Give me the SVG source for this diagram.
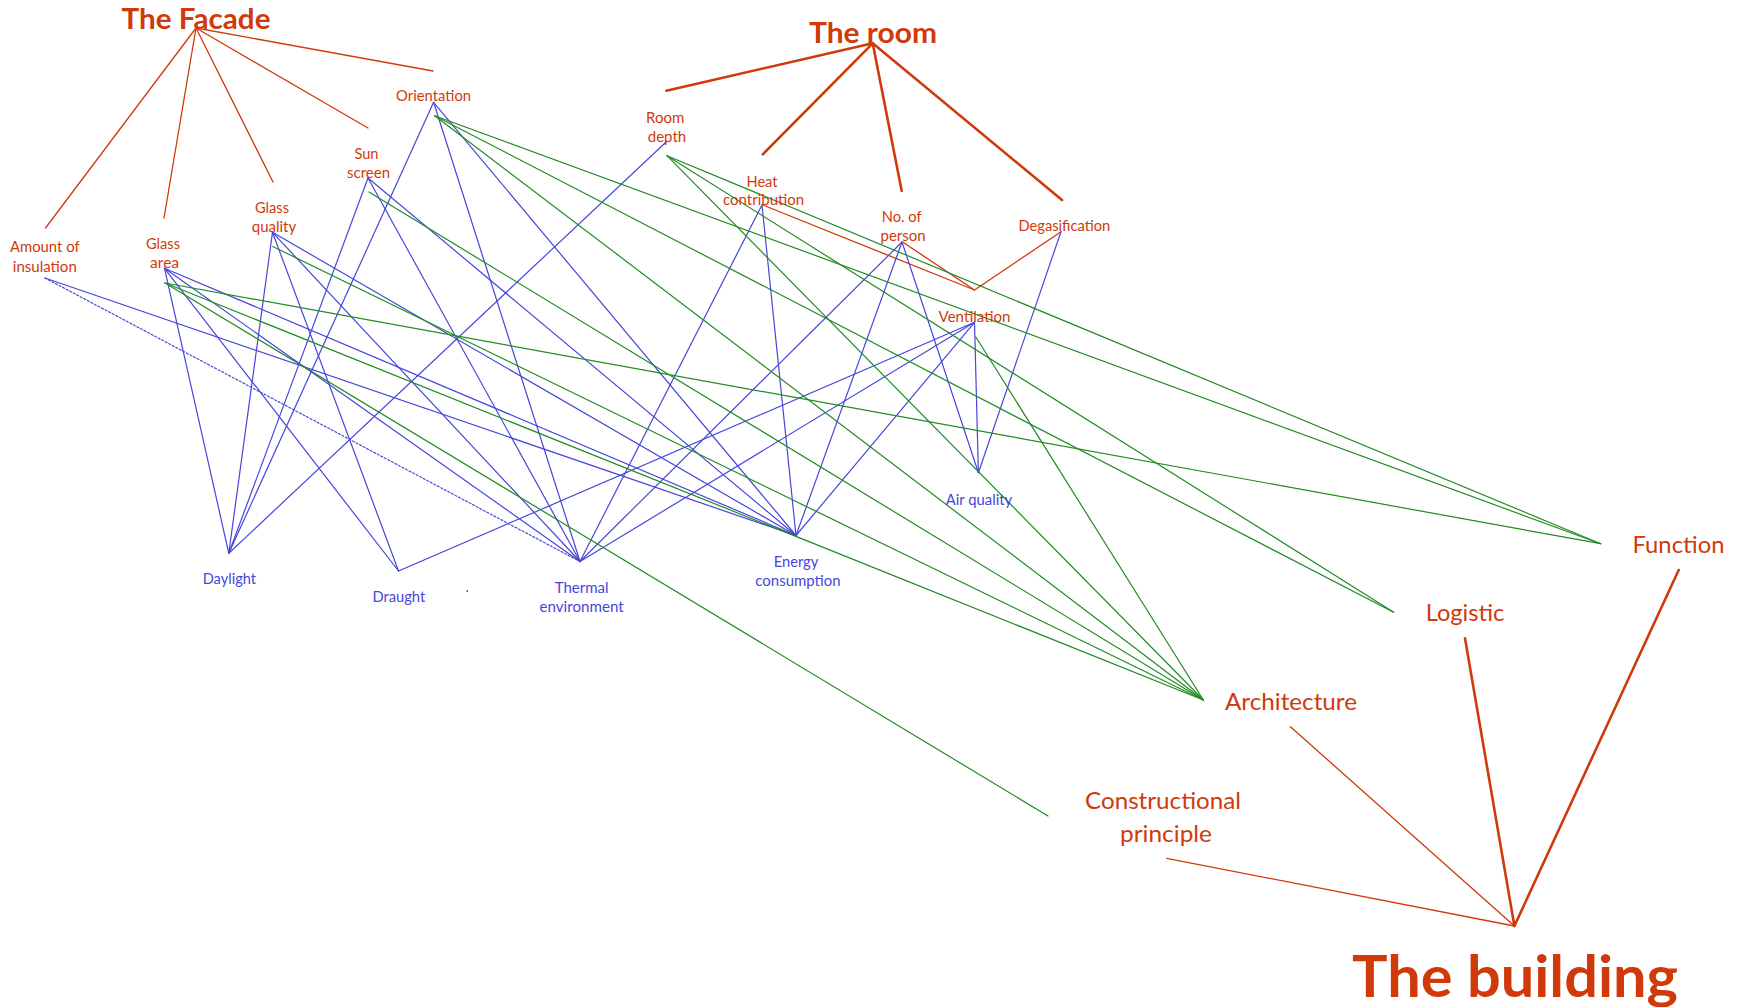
<svg xmlns="http://www.w3.org/2000/svg" width="1748" height="1007" viewBox="0 0 1748 1007">
  <style>
    text { font-family: Lato, "Liberation Sans", sans-serif; text-anchor: middle; }
    .red { fill: #D03A0A; }
    .blue { fill: #4646DC; }
    .lbl { font-size: 14.5px; }
    .title { font-size: 29px; font-weight: bold; }
    .bld { font-size: 23.5px; }
    .big { font-size: 58px; font-weight: bold; }
    line { fill: none; stroke-linecap: round; }
    .r { stroke: #D03A0A; stroke-width: 1.3; }
    .rt { stroke: #D03A0A; stroke-width: 2.6; }
    .b { stroke: #4646DC; stroke-width: 1.2; }
    .g { stroke: #228B22; stroke-width: 1.2; }
    .dash { stroke-dasharray: 2 2; }
  </style>
  <rect width="1748" height="1007" fill="#FFFFFF"/>

  <g id="connectors">
    <!-- facade tree -->
    <line class="r" x1="196" y1="28" x2="45.5" y2="228"/>
    <line class="r" x1="196" y1="28" x2="164" y2="218"/>
    <line class="r" x1="196" y1="28" x2="273" y2="182"/>
    <line class="r" x1="196" y1="28" x2="368" y2="128"/>
    <line class="r" x1="196" y1="28" x2="433" y2="71"/>
    <!-- room tree -->
    <line class="rt" x1="872.7" y1="43.3" x2="666.4" y2="90.7"/>
    <line class="rt" x1="872.7" y1="43.3" x2="762.8" y2="154.3"/>
    <line class="rt" x1="872.7" y1="43.3" x2="901.7" y2="191"/>
    <line class="rt" x1="872.7" y1="43.3" x2="1062" y2="200"/>
    <line class="r" x1="762.8" y1="205" x2="974.5" y2="290"/>
    <line class="r" x1="903" y1="242.3" x2="974.5" y2="290"/>
    <line class="r" x1="1061" y1="231.7" x2="974.5" y2="290"/>
    <!-- building tree -->
    <line class="r" x1="1514.4" y1="926" x2="1166.7" y2="858.3"/>
    <line class="r" x1="1514.4" y1="926" x2="1290.4" y2="726.7"/>
    <line class="rt" x1="1514.4" y1="926" x2="1465" y2="638.3"/>
    <line class="rt" x1="1514.4" y1="926" x2="1678.7" y2="570"/>

    <!-- blue: parameters to indoor performance -->
    <line class="b" x1="45" y1="278" x2="796" y2="535.5"/>
    <line class="b dash" x1="45" y1="278" x2="580" y2="561.5"/>
    <line class="b" x1="164.5" y1="268.3" x2="228.8" y2="553.3"/>
    <line class="b" x1="164.5" y1="268.3" x2="398.5" y2="571"/>
    <line class="b" x1="164.5" y1="268.3" x2="580" y2="561.5"/>
    <line class="b" x1="164.5" y1="268.3" x2="796" y2="535.5"/>
    <line class="b" x1="272.5" y1="232.3" x2="228.8" y2="553.3"/>
    <line class="b" x1="272.5" y1="232.3" x2="398.5" y2="571"/>
    <line class="b" x1="272.5" y1="232.3" x2="580" y2="561.5"/>
    <line class="b" x1="272.5" y1="232.3" x2="796" y2="535.5"/>
    <line class="b" x1="368" y1="178" x2="228.8" y2="553.3"/>
    <line class="b" x1="368" y1="178" x2="580" y2="561.5"/>
    <line class="b" x1="368" y1="178" x2="796" y2="535.5"/>
    <line class="b" x1="433.6" y1="102.3" x2="228.8" y2="553.3"/>
    <line class="b" x1="433.6" y1="102.3" x2="580" y2="561.5"/>
    <line class="b" x1="433.6" y1="102.3" x2="796" y2="535.5"/>
    <line class="b" x1="666.4" y1="141.7" x2="228.8" y2="553.3"/>
    <line class="b" x1="762" y1="205" x2="580" y2="561.5"/>
    <line class="b" x1="762" y1="205" x2="796" y2="535.5"/>
    <line class="b" x1="902" y1="242" x2="580" y2="561.5"/>
    <line class="b" x1="902" y1="242" x2="796" y2="535.5"/>
    <line class="b" x1="902" y1="242" x2="978.4" y2="472.7"/>
    <line class="b" x1="1061" y1="231.7" x2="978.4" y2="472.7"/>
    <line class="b" x1="974.5" y1="322.3" x2="398.5" y2="571"/>
    <line class="b" x1="974.5" y1="322.3" x2="580" y2="561.5"/>
    <line class="b" x1="974.5" y1="322.3" x2="796" y2="535.5"/>
    <line class="b" x1="974.5" y1="322.3" x2="978.4" y2="472.7"/>

    <!-- green: parameters to building aspects -->
    <line class="g" x1="165" y1="283" x2="1600.7" y2="543.7"/>
    <line class="g" x1="165" y1="283" x2="1203.4" y2="700"/>
    <line class="g" x1="165" y1="283" x2="1048" y2="816"/>
    <line class="g" x1="272.7" y1="246.5" x2="1203.4" y2="700"/>
    <line class="g" x1="369" y1="192" x2="1203.4" y2="700"/>
    <line class="g" x1="434.7" y1="115.7" x2="1600.7" y2="543.7"/>
    <line class="g" x1="434.7" y1="115.7" x2="1393.7" y2="612.3"/>
    <line class="g" x1="434.7" y1="115.7" x2="1203.4" y2="700"/>
    <line class="g" x1="667" y1="155.7" x2="1600.7" y2="543.7"/>
    <line class="g" x1="667" y1="155.7" x2="1393.7" y2="612.3"/>
    <line class="g" x1="667" y1="155.7" x2="1203.4" y2="700"/>
    <line class="g" x1="975.7" y1="336.7" x2="1203.4" y2="700"/>
  </g>

  <g id="facade"><text class="red title" x="196" y="29" textLength="149" lengthAdjust="spacingAndGlyphs">The Facade</text></g>
  <g id="room"><text class="red title" x="873" y="43.3" textLength="128" lengthAdjust="spacingAndGlyphs">The room</text></g>
  <g id="building"><text class="red big" x="1515" y="996.5" textLength="326" lengthAdjust="spacingAndGlyphs">The building</text></g>

  <g id="orientation"><text class="red lbl" x="433.6" y="101" textLength="75" lengthAdjust="spacingAndGlyphs">Orientation</text></g>
  <g id="sun-screen">
    <text class="red lbl" x="366.5" y="159.3" textLength="24" lengthAdjust="spacingAndGlyphs">Sun</text>
    <text class="red lbl" x="368.5" y="178" textLength="43" lengthAdjust="spacingAndGlyphs">screen</text>
  </g>
  <g id="glass-quality">
    <text class="red lbl" x="272" y="213" textLength="34" lengthAdjust="spacingAndGlyphs">Glass</text>
    <text class="red lbl" x="274" y="232" textLength="44.4" lengthAdjust="spacingAndGlyphs">quality</text>
  </g>
  <g id="insulation">
    <text class="red lbl" x="44.8" y="252" textLength="69.6" lengthAdjust="spacingAndGlyphs">Amount of</text>
    <text class="red lbl" x="44.8" y="271.7" textLength="64" lengthAdjust="spacingAndGlyphs">insulation</text>
  </g>
  <g id="glass-area">
    <text class="red lbl" x="163" y="249.3" textLength="34" lengthAdjust="spacingAndGlyphs">Glass</text>
    <text class="red lbl" x="164.6" y="268.3" textLength="29" lengthAdjust="spacingAndGlyphs">area</text>
  </g>
  <g id="room-depth">
    <text class="red lbl" x="665.2" y="123.3" textLength="38.3" lengthAdjust="spacingAndGlyphs">Room</text>
    <text class="red lbl" x="667" y="141.7" textLength="38.5" lengthAdjust="spacingAndGlyphs">depth</text>
  </g>
  <g id="heat-contribution">
    <text class="red lbl" x="762" y="186.7" textLength="31" lengthAdjust="spacingAndGlyphs">Heat</text>
    <text class="red lbl" x="763.6" y="205" textLength="81" lengthAdjust="spacingAndGlyphs">contribution</text>
  </g>
  <g id="persons">
    <text class="red lbl" x="901.7" y="222.3" textLength="39.7" lengthAdjust="spacingAndGlyphs">No. of</text>
    <text class="red lbl" x="903" y="240.7" textLength="45" lengthAdjust="spacingAndGlyphs">person</text>
  </g>
  <g id="degasification"><text class="red lbl" x="1064.4" y="230.7" textLength="91.8" lengthAdjust="spacingAndGlyphs">Degasification</text></g>
  <g id="ventilation"><text class="red lbl" x="974.5" y="321.7" textLength="71.8" lengthAdjust="spacingAndGlyphs">Ventilation</text></g>

  <g id="daylight"><text class="blue lbl" x="229.4" y="584" textLength="53.4" lengthAdjust="spacingAndGlyphs">Daylight</text></g>
  <g id="draught"><text class="blue lbl" x="398.8" y="602" textLength="52.8" lengthAdjust="spacingAndGlyphs">Draught</text></g>
  <g id="thermal-environment">
    <text class="blue lbl" x="581.6" y="593.3" textLength="53.9" lengthAdjust="spacingAndGlyphs">Thermal</text>
    <text class="blue lbl" x="581.6" y="612" textLength="84.2" lengthAdjust="spacingAndGlyphs">environment</text>
  </g>
  <g id="energy-consumption">
    <text class="blue lbl" x="796" y="566.7" textLength="44.5" lengthAdjust="spacingAndGlyphs">Energy</text>
    <text class="blue lbl" x="798" y="585.7" textLength="85.3" lengthAdjust="spacingAndGlyphs">consumption</text>
  </g>
  <g id="air-quality"><text class="blue lbl" x="979" y="504.5" textLength="66.5" lengthAdjust="spacingAndGlyphs">Air quality</text></g>

  <g id="function"><text class="red bld" x="1678.5" y="553.3" textLength="92" lengthAdjust="spacingAndGlyphs">Function</text></g>
  <g id="logistic"><text class="red bld" x="1465" y="620.7" textLength="78.7" lengthAdjust="spacingAndGlyphs">Logistic</text></g>
  <g id="architecture"><text class="red bld" x="1291" y="710" textLength="132" lengthAdjust="spacingAndGlyphs">Architecture</text></g>
  <g id="constructional-principle">
    <text class="red bld" x="1163" y="809.3" textLength="156" lengthAdjust="spacingAndGlyphs">Constructional</text>
    <text class="red bld" x="1166" y="841.7" textLength="92" lengthAdjust="spacingAndGlyphs">principle</text>
  </g>

  <circle cx="467.3" cy="591" r="0.9" fill="#555555"/>
</svg>
